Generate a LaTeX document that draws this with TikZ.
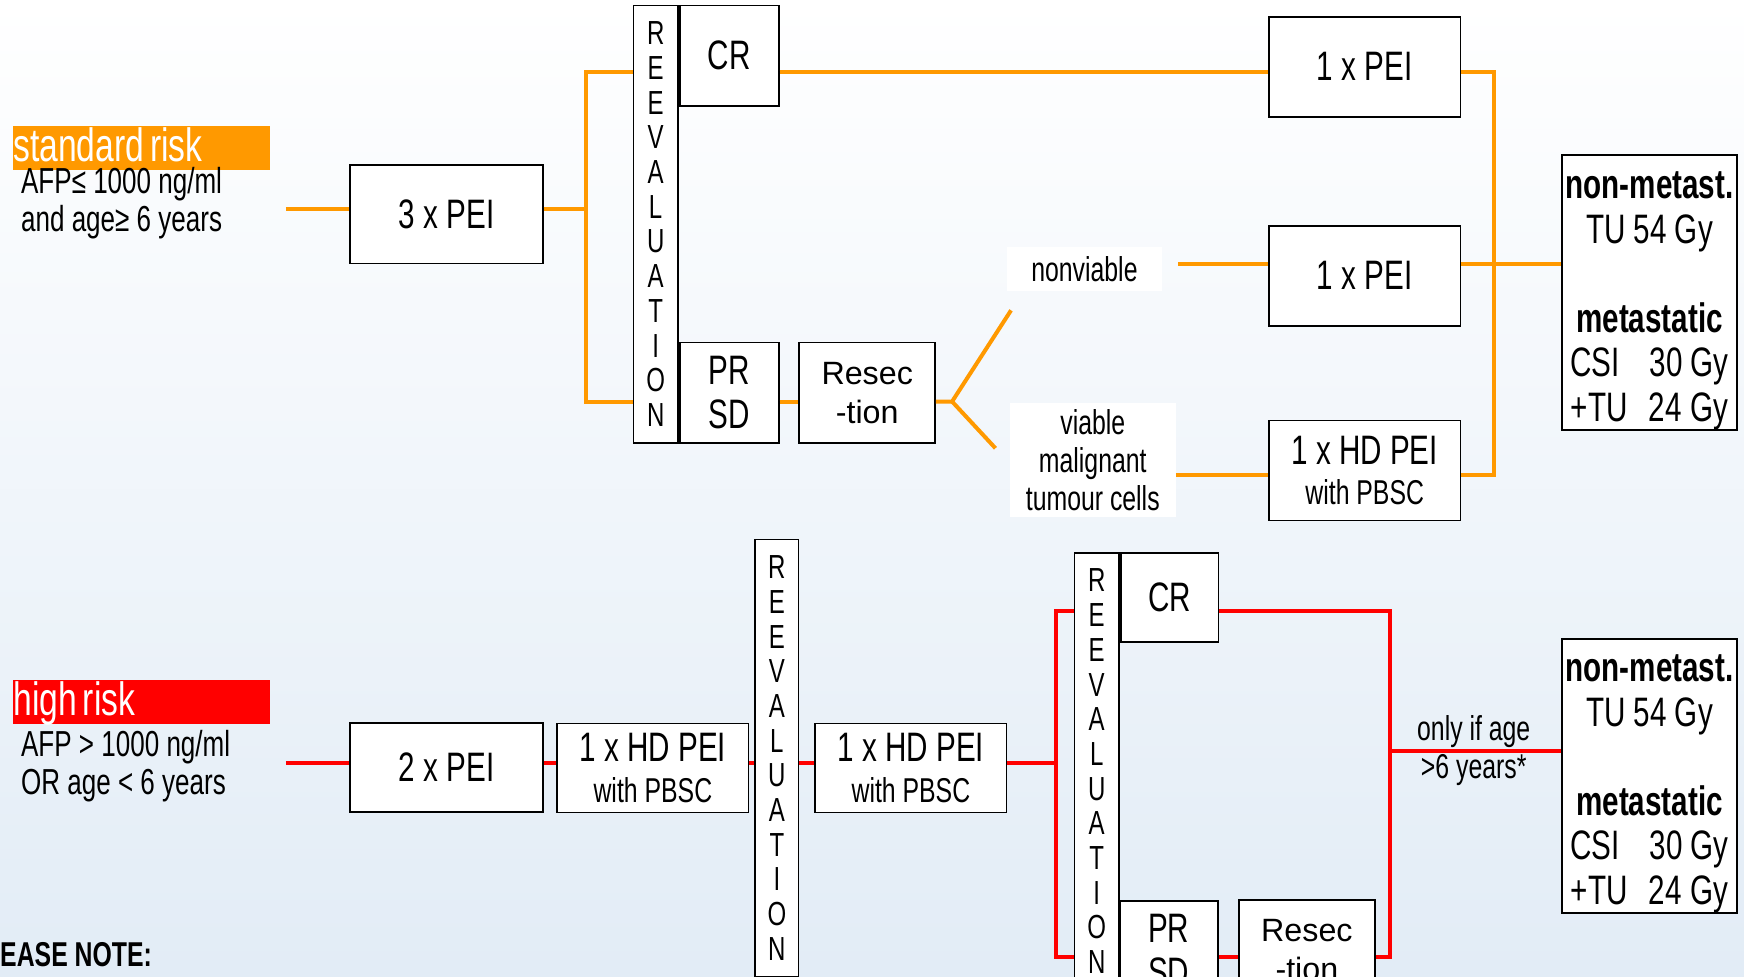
\documentclass[tikz,border=0pt]{standalone}
\usepackage{fontspec}
\setmainfont{Liberation Sans}[FakeStretch=0.72]
\newfontfamily\plainsans{Liberation Sans}
\newfontfamily\tagfont{Liberation Sans}[FakeStretch=0.72, WordSpace=0.65]
\usepackage{tikz}
\usetikzlibrary{positioning, calc}
\definecolor{stdOrange}{RGB}{255,153,0}
\definecolor{highRed}{RGB}{255,0,0}
\definecolor{bgBlue}{RGB}{226,236,246}
\newcommand{\fsz}[2]{\fontsize{#1}{#2}\selectfont}

\begin{document}
\begin{tikzpicture}[
    x=1pt, y=-1pt,
    box/.style={draw, line width=1.6pt, fill=white, inner sep=0pt,
                align=center, font=\fsz{37}{40}},
    hdbox/.style={box, minimum width=172pt, minimum height=80pt,
                  font=\fsz{37}{36.5}},
    resbox/.style={box, minimum width=122pt, minimum height=90pt,
                   font=\plainsans\fsz{29}{35}},
    revbox/.style={box, minimum width=40pt, font=\fsz{30}{31.2}},
    tag/.style={inner sep=0pt, text=white, minimum height=40pt,
                text width=231pt, align=left, font=\tagfont\fsz{42}{44},
                execute at begin node={\spaceskip=0pt\relax},
                text height=30pt, text depth=6pt},
    note/.style={inner sep=0pt, align=left, font=\fsz{32.5}{34}},
    lbl/.style={fill=white, inner sep=0pt, align=center, font=\fsz{31}{34}},
    oline/.style={line width=3.6pt, stdOrange},
    rline/.style={line width=3.6pt, highRed}
]
\useasboundingbox (0,0) rectangle (1568,878);
\fill[top color=white, bottom color=bgBlue] (0,0) rectangle (1568,878);
\clip (0,0) rectangle (1568,878);

% ---- standard risk ----
\node[tag, fill=stdOrange] (srisk) at (127.5,133) {standard risk};
\node[note, anchor=north west] (safp) at ([xshift=7pt,yshift=3pt]srisk.south west)
     {AFP≤ 1000 ng/ml\\and age≥ 6 years};
\coordinate (sin) at (257,188);
\node[box, minimum width=173pt, minimum height=89pt] (pei3) at (401.5,192.5) {3 x PEI};
\node[revbox, minimum height=393pt] (rev1) at (589.5,201.5)
     {R\\E\\E\\V\\A\\L\\U\\A\\T\\I\\O\\N};
\node[box, minimum width=89pt, minimum height=90pt, anchor=north west] (cr1) at (rev1.north east) {CR};
\node[box, minimum width=89pt, minimum height=90pt, anchor=south west] (prsd1) at (rev1.south east) {PR\\SD};
\node[resbox, right=17pt of prsd1] (res1) {Resec\\-tion};
\node[lbl, minimum width=140pt, minimum height=40pt] (nonv) at (975,242) {nonviable};
\node[lbl, minimum width=149pt, minimum height=103pt] (viab) at (982.5,413.5)
     {viable\\malignant\\tumour cells};
\node[box, minimum width=172pt, minimum height=90pt] (pei1a) at (1227,60) {1 x PEI};
\node[box, minimum width=172pt, minimum height=90pt] (pei1b) at (1227,248) {1 x PEI};
\node[hdbox, minimum height=90pt] (hd1) at (1227,423) {1 x HD PEI\\{\fsz{31}{35}with PBSC}};
\node[box, minimum width=158pt, minimum height=242pt] (rt1) at (1483,263)
     {\rule{0pt}{39pt}\textbf{non-metast.}\\TU 54 Gy\\[40pt]\textbf{metastatic}\\CSI\hspace{27pt}30 Gy\\+TU\hspace{19pt}24 Gy};

% ---- orange connectors ----
\coordinate (rowA) at (0,65);
\coordinate (rowB) at (0,237);
\coordinate (rowC) at (0,361);
\coordinate (rowD) at (0,427);
\coordinate (jL) at (527,188);
\coordinate (jR) at (1343,237);
\coordinate (fork) at (856,361);
\coordinate (armU) at (909,279);
\coordinate (armD) at (895,403);
\draw[oline] (sin) -- (pei3.west |- sin);
\draw[oline] (pei3.east |- sin) -- (jL);
\draw[oline] (rev1.west |- rowA) -| (jL) |- (rev1.west |- rowC);
\draw[oline] (cr1.east |- rowA) -- (pei1a.west |- rowA);
\draw[oline] (prsd1.east |- rowC) -- (res1.west |- rowC);
\draw[oline] (res1.east |- rowC) -- (fork) -- (armU);
\draw[oline] (fork) -- (armD);
\draw[oline, shorten <=14pt] (nonv.east |- rowB) -- (pei1b.west |- rowB);
\draw[oline] (viab.east |- rowD) -- (hd1.west |- rowD);
\draw[oline] (pei1a.east |- rowA) -| (jR) |- (hd1.east |- rowD);
\draw[oline] (pei1b.east |- rowB) -- (rt1.west |- rowB);

% ---- high risk ----
\node[tag, fill=highRed] (hrisk) at (127.5,631) {high risk};
\node[note, anchor=north west] (hafp) at ([xshift=7pt,yshift=-5pt]hrisk.south west)
     {AFP > 1000 ng/ml\\OR age < 6 years};
\coordinate (hin) at (257,686);
\node[box, minimum width=173pt, minimum height=80pt] (pei2) at (401.5,690) {2 x PEI};
\node[hdbox] (hd2a) at (587,690.5) {1 x HD PEI\\{\fsz{31}{35}with PBSC}};
\node[revbox, minimum width=39pt, minimum height=393pt] (rev2) at (698.5,681.5)
     {R\\E\\E\\V\\A\\L\\U\\A\\T\\I\\O\\N};
\node[hdbox] (hd2b) at (819,690.5) {1 x HD PEI\\{\fsz{31}{35}with PBSC}};
\node[revbox, minimum height=393pt] (rev3) at (986,693.5)
     {R\\E\\E\\V\\A\\L\\U\\A\\T\\I\\O\\N};
\node[box, minimum width=88pt, minimum height=80pt, anchor=north west] (cr3) at (rev3.north east) {CR};
\node[box, minimum width=88pt, minimum height=90pt, anchor=north west] (prsd3) at (1006,809) {PR\\SD};
\node[resbox] (res3) at (1175,854) {Resec\\-tion};
\node[box, minimum width=158pt, minimum height=241pt] (rt2) at (1483,697.5)
     {\rule{0pt}{39pt}\textbf{non-metast.}\\TU 54 Gy\\[40pt]\textbf{metastatic}\\CSI\hspace{27pt}30 Gy\\+TU\hspace{19pt}24 Gy};
\node[align=center, inner sep=0pt, font=\fsz{31}{34}] (agenote) at (1325,675) {only if age\\>6 years*};
\node[anchor=west, inner sep=0pt, font=\bfseries\fsz{31}{34}] (pnote) at (0,858) {EASE NOTE:};

% ---- red connectors ----
\coordinate (rowE) at (0,549);
\coordinate (rowF) at (0,860);
\coordinate (jB) at (949,686);
\coordinate (jC) at (1250,675);
\draw[rline] (hin) -- (pei2.west |- hin);
\draw[rline] (pei2.east |- hin) -- (hd2a.west |- hin);
\draw[rline] (hd2a.east |- hin) -- (rev2.west |- hin);
\draw[rline] (rev2.east |- hin) -- (hd2b.west |- hin);
\draw[rline] (hd2b.east |- hin) -- (jB);
\draw[rline] (rev3.west |- rowE) -| (jB) |- (rev3.west |- rowF);
\draw[rline] (cr3.east |- rowE) -| (jC) |- (res3.east |- rowF);
\draw[rline] (prsd3.east |- rowF) -- (res3.west |- rowF);
\draw[rline] (jC) -- (rt2.west |- jC);
\end{tikzpicture}
\end{document}
